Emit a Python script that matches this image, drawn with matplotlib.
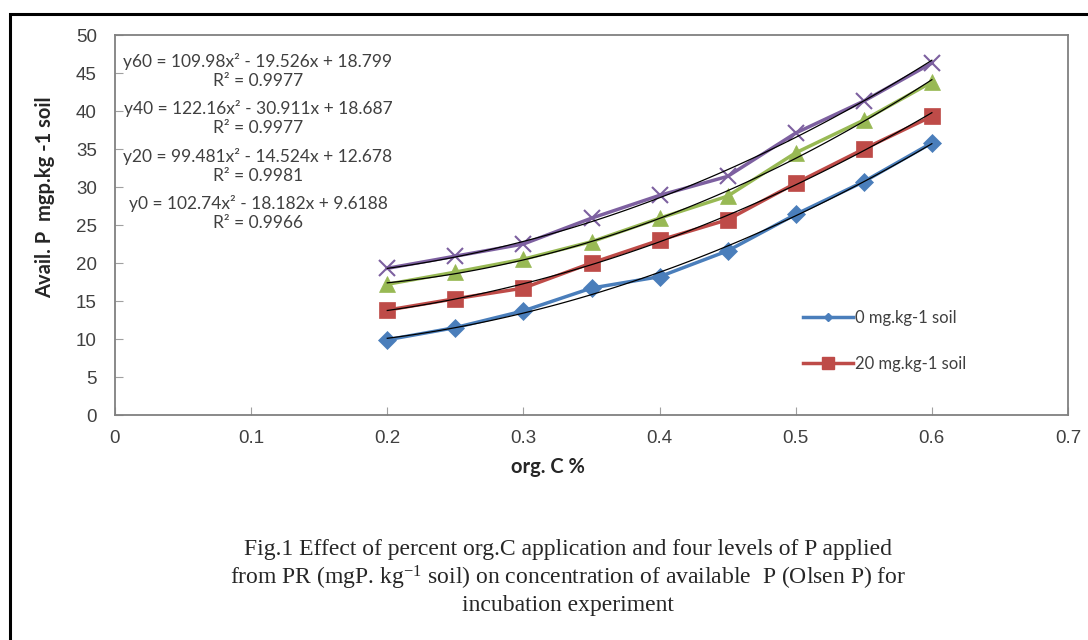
import matplotlib
matplotlib.use("Agg")
import matplotlib.pyplot as plt
import numpy as np
from matplotlib.patches import Rectangle
from matplotlib.lines import Line2D

plt.rcParams['mathtext.default'] = 'regular'

org_c = [0.2, 0.25, 0.3, 0.35, 0.4, 0.45, 0.5, 0.55, 0.6]
p0 = [9.9, 11.5, 13.7, 16.7, 18.2, 21.6, 26.4, 30.7, 35.8]
p20 = [13.8, 15.3, 16.7, 20.0, 23.0, 25.7, 30.5, 35.0, 39.3]
p40 = [17.2, 18.8, 20.5, 22.8, 25.9, 28.8, 34.5, 38.8, 43.8]
p60 = [19.3, 20.9, 22.5, 25.9, 28.9, 31.4, 37.1, 41.3, 46.3]

fit0 = [102.74, -18.182, 9.6188]
fit20 = [99.481, -14.524, 12.678]
fit40 = [122.16, -30.911, 18.687]
fit60 = [109.98, -19.526, 18.799]

eq_texts = [
    "y60 = 109.98x² - 19.526x + 18.799\nR² = 0.9977",
    "y40 = 122.16x² - 30.911x + 18.687\nR² = 0.9977",
    "y20 = 99.481x² - 14.524x + 12.678\nR² = 0.9981",
    "y0 = 102.74x² - 18.182x + 9.6188\nR² = 0.9966",
]

legend_labels = ["0 mg.kg-1 soil", "20 mg.kg-1 soil"]
x_ticks = [0, 0.1, 0.2, 0.3, 0.4, 0.5, 0.6, 0.7]
y_ticks = [0, 5, 10, 15, 20, 25, 30, 35, 40, 45, 50]

W, H = 1088, 640
fig = plt.figure(figsize=(W / 100, H / 100), dpi=100)

def fx(px):
    return px / W

def fy(py):
    return 1 - py / H

ax = fig.add_axes([fx(115), fy(415), fx(1068) - fx(115), fy(35) - fy(415)])

colors = ['#4a7ebb', '#be4b48', '#98b954', '#7d60a0']
series = [p0, p20, p40, p60]
fits = [fit0, fit20, fit40, fit60]
markers = ['D', 's', '^', 'x']
msizes = [9, 11, 11, 12]

xs = np.linspace(0.2, 0.6, 100)
for s, c, m, ms, f in zip(series, colors, markers, msizes, fits):
    ax.plot(org_c, s, color=c, lw=2.5, marker=m, markersize=ms,
            markeredgewidth=1.5 if m == 'x' else 0.5, markeredgecolor=c, zorder=3)
    ax.plot(xs, np.polyval(f, xs), color='black', lw=0.9, zorder=4)

ax.set_xlim(0, 0.7)
ax.set_ylim(0, 50)
ax.set_xticks(x_ticks)
ax.set_xticklabels([f"{t:g}" for t in x_ticks])
ax.set_yticks(y_ticks)
for sp in ax.spines.values():
    sp.set_color('#808080')
    sp.set_linewidth(1.3)
ax.tick_params(axis='x', direction='in', length=6, color='#a0a0a0', pad=11,
               labelsize=13.5, labelcolor='#404040')
ax.tick_params(axis='y', direction='in', length=6, color='#a0a0a0', pad=13,
               labelsize=13.5, labelcolor='#404040')
for lab in ax.get_xticklabels() + ax.get_yticklabels():
    lab.set_family('Liberation Sans')

# equations
eq_y = [71, 118, 166, 213]
for t, py in zip(eq_texts, eq_y):
    fig.text(fx(258), fy(py), t, ha='center', va='center', fontsize=12.5,
             family='Lato', color='#404040', linespacing=1.3)

# legend (first two series only)
handles = [Line2D([], [], color=colors[0], lw=2.5, marker='D', markersize=4),
           Line2D([], [], color=colors[1], lw=2.5, marker='s', markersize=8)]
leg = ax.legend(handles, legend_labels, loc='upper left',
                bbox_to_anchor=(fx(788 - 115) / (fx(1068) - fx(115)), (415 - 295) / 380),
                frameon=False, prop={'family': 'Lato', 'size': 12},
                handlelength=3.0, handletextpad=0.1, labelspacing=1.8,
                labelcolor='#404040')

fig.text(fx(45), fy(197), "Avail. P  mgp.kg -1 soil", rotation=90, ha='center',
         va='center', fontsize=14.5, fontweight='bold', family='Lato', color='#262626')
fig.text(fx(548), fy(467), "org. C %", ha='center', va='center', fontsize=14.5,
         fontweight='bold', family='Lato', color='#262626')

cap = ["Fig.1 Effect of percent org.C application and four levels of P applied",
       "from PR (mgP. kg$^{-1}$ soil) on concentration of available  P (Olsen P) for",
       "incubation experiment"]
for t, py in zip(cap, [550, 578, 606]):
    fig.text(fx(568), fy(py), t, ha='center', va='center', fontsize=17,
             family='Liberation Serif', color='#262626')

fig.patches.append(Rectangle((fx(10), fy(660)), 1.2, fy(14) - fy(660),
                             transform=fig.transFigure, fill=False,
                             edgecolor='black', lw=2.2))

fig.savefig("out.png", dpi=100)
